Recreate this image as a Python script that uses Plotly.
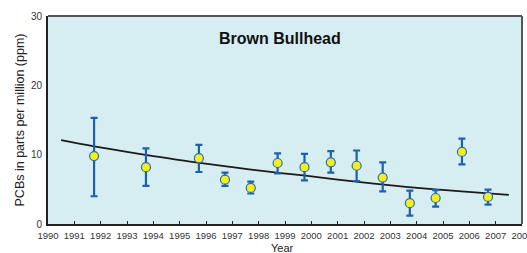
import plotly.graph_objects as go

years = [1991.75, 1993.72, 1995.73, 1996.72, 1997.7, 1998.72, 1999.74, 2000.74,
         2001.72, 2002.71, 2003.74, 2004.72, 2005.72, 2006.71]
pcb = [9.8, 8.2, 9.5, 6.4, 5.2, 8.8, 8.2, 8.9, 8.4, 6.7, 3.0, 3.75, 10.4, 3.9]
err_hi = [15.3, 10.9, 11.4, 7.4, 6.1, 10.2, 10.1, 10.5, 10.6, 8.9, 4.8, 4.9, 12.3, 4.95]
err_lo = [4.0, 5.5, 7.5, 5.5, 4.4, 7.3, 6.3, 7.4, 6.2, 4.7, 1.2, 2.5, 8.6, 2.8]

trend_x = [1990.5, 1991.75, 1993, 1994, 1995.4, 1997, 1998.7, 1999.7, 2001, 2002.2, 2003.5, 2004.7, 2005.7, 2007.5]
trend_y = [12.1, 11.2, 10.4, 9.8, 9.0, 8.2, 7.4, 7.0, 6.4, 5.9, 5.4, 5.0, 4.7, 4.2]

tick_years = list(range(1990, 2009))

fig = go.Figure()
fig.add_trace(go.Scatter(x=trend_x, y=trend_y, mode="lines",
                         line=dict(color="#1a1a1a", width=1.8, shape="spline"),
                         hoverinfo="skip", showlegend=False))
fig.add_trace(go.Scatter(
    x=years, y=pcb, mode="markers",
    marker=dict(color="#f4ee1c", size=9, line=dict(color="#2a6db8", width=1.2)),
    error_y=dict(type="data", symmetric=False,
                 array=[h - v for h, v in zip(err_hi, pcb)],
                 arrayminus=[v - l for v, l in zip(pcb, err_lo)],
                 color="#1f60ad", thickness=2.2, width=3.5),
    showlegend=False))

fig.add_annotation(text="<b>Brown Bullhead</b>", x=0.49, y=0.894, xref="paper", yref="paper",
                   xanchor="center", yanchor="middle", showarrow=False,
                   font=dict(size=16, color="#111111", family="Liberation Sans, Arial"))
fig.add_annotation(text="Year", x=0.495, y=-0.117, xref="paper", yref="paper",
                   xanchor="center", yanchor="middle", showarrow=False,
                   font=dict(size=11, color="#222222", family="Liberation Sans, Arial"))

fig.update_layout(
    width=527, height=253,
    margin=dict(l=48, r=5, t=16, b=29),
    paper_bgcolor="white", plot_bgcolor="#d6edf2",
    font=dict(family="Liberation Sans, Arial", size=10, color="#333333"),
    xaxis=dict(range=[1990, 2008], tickvals=tick_years, ticktext=[str(y) for y in tick_years],
               automargin=False, tickfont=dict(size=9.5), ticklabelstandoff=2,
               ticklabeloverflow="allow",
               showgrid=False, zeroline=False, showline=True, linecolor="#222222", linewidth=2,
               ticks="inside", ticklen=3, tickcolor="#222222", mirror=False),
    yaxis=dict(range=[0, 30], tickvals=[0, 10, 20, 30], showgrid=False, zeroline=False,
               automargin=False, tickfont=dict(size=10), ticklabelstandoff=2,
               showline=True, linecolor="#222222", linewidth=2, ticks="",
               title=dict(text="PCBs in parts per million (ppm)", font=dict(size=12.5, color="#222222"), standoff=4)),
)
# frame top/right
fig.add_shape(type="line", xref="paper", yref="paper", x0=0, x1=1, y0=1, y1=1,
              line=dict(color="#555555", width=2))
fig.add_shape(type="line", xref="paper", yref="paper", x0=1, x1=1, y0=0, y1=1,
              line=dict(color="#555555", width=2))
fig.write_html("out.html", config={"displayModeBar": False},
               post_script="document.body.style.margin='0';document.body.style.overflow='hidden';")
